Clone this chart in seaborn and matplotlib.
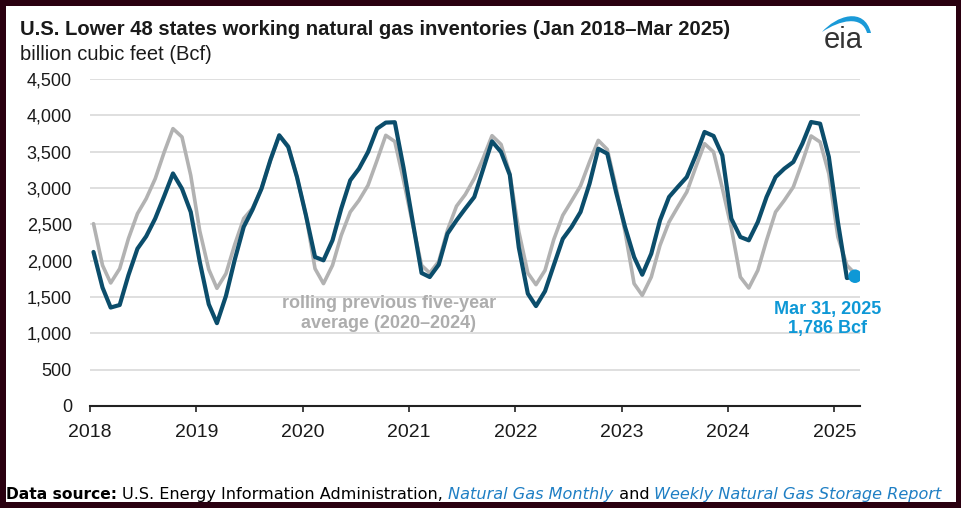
import numpy as np
import pandas as pd
import matplotlib
matplotlib.use("Agg")
import matplotlib.pyplot as plt
from matplotlib.patches import Rectangle, PathPatch
from matplotlib.path import Path
from matplotlib.ticker import FuncFormatter
import matplotlib.transforms as mtransforms
import seaborn as sns

# ---------------- data (Bcf, monthly, Jan 2018 - Mar 2025) ----------------
start_month = "2018-01"
end_month = "2025-03"

inventory = [
    2120, 1630, 1355, 1390, 1800, 2165, 2335, 2580, 2890, 3200, 2990, 2670,   # 2018
    1985, 1400, 1140, 1515, 2010, 2465, 2700, 2990, 3390, 3725, 3565, 3150,   # 2019
    2620, 2050, 2005, 2280, 2716, 3106, 3266, 3495, 3817, 3900, 3905, 3280,   # 2020
    2550, 1830, 1775, 1945, 2372, 2555, 2716, 2876, 3266, 3642, 3495, 3180,   # 2021
    2180, 1546, 1375, 1580, 1936, 2300, 2463, 2670, 3060, 3541, 3472, 2945,   # 2022
    2463, 2050, 1807, 2096, 2555, 2876, 3014, 3151, 3450, 3771, 3716, 3450,   # 2023
    2578, 2326, 2280, 2532, 2876, 3151, 3266, 3358, 3610, 3908, 3885, 3427,   # 2024
    2532, 1761, 1786,                                                         # 2025
]

five_year_avg = [
    2509, 1936, 1693, 1890, 2303, 2647, 2853, 3128, 3495, 3817, 3702, 3174,   # 2018
    2410, 1880, 1620, 1821, 2220, 2580, 2720, 2991, 3381, 3725, 3580, 3150,   # 2019
    2620, 1890, 1684, 1936, 2349, 2670, 2830, 3037, 3381, 3725, 3640, 3106,   # 2020
    2509, 1936, 1830, 1990, 2420, 2750, 2910, 3130, 3415, 3720, 3600, 3200,   # 2021
    2400, 1830, 1670, 1867, 2290, 2624, 2820, 3030, 3360, 3656, 3530, 3010,   # 2022
    2395, 1684, 1523, 1775, 2211, 2532, 2739, 2945, 3289, 3610, 3495, 3000,   # 2023
    2450, 1775, 1624, 1867, 2280, 2670, 2830, 3014, 3358, 3716, 3633, 3197,   # 2024
    2326, 1936, 1821,                                                         # 2025
]

year_ticks = [2018, 2019, 2020, 2021, 2022, 2023, 2024, 2025]
y_ticks = [0, 500, 1000, 1500, 2000, 2500, 3000, 3500, 4000, 4500]

title = "U.S. Lower 48 states working natural gas inventories (Jan 2018\u2013Mar 2025)"
subtitle = "billion cubic feet (Bcf)"
avg_label = "rolling previous five-year\naverage (2020\u20132024)"
last_label = "Mar 31, 2025\n1,786 Bcf"

# ---------------- styling ----------------
DARK = "#0b4d6b"
GRAY = "#b2b2b2"
BLUE = "#0e98d6"
GRID = "#d9d9d9"
TXT = "#1a1a1a"
BORDER = "#2a0010"

sns.set_theme(style="white")
plt.rcParams['font.family'] = ['Liberation Sans', 'DejaVu Sans']

W, H = 962, 508
dates = pd.period_range(start_month, end_month, freq="M").to_timestamp() + pd.Timedelta(days=12)
df = pd.DataFrame({"date": dates, "inventory": inventory, "avg": five_year_avg})

fig = plt.figure(figsize=(W / 100, H / 100), dpi=100)
fig.patch.set_facecolor("white")
ax = fig.add_axes([90 / W, 102 / H, 770 / W, 327 / H])
ax.set_facecolor("white")

sns.lineplot(data=df, x="date", y="avg", ax=ax, color=GRAY, linewidth=2.6, zorder=3)
sns.lineplot(data=df, x="date", y="inventory", ax=ax, color=DARK, linewidth=3.0, zorder=4)
last = df.iloc[[-1]]
sns.scatterplot(data=last, x="date", y="inventory", ax=ax, color=BLUE, s=95,
                edgecolor="none", zorder=5, legend=False)

ax.set_xlim(pd.Timestamp("2018-01-01"), pd.Timestamp("2025-03-30"))
ax.set_ylim(0, 4500)
ax.set_yticks(y_ticks)
ax.yaxis.set_major_formatter(FuncFormatter(lambda v, p: f"{int(v):,}"))
ax.set_xticks([pd.Timestamp(f"{y}-01-01") for y in year_ticks])
ax.set_xticklabels([str(y) for y in year_ticks])
ax.set_xlabel("")
ax.set_ylabel("")

ax.yaxis.grid(True, color=GRID, linewidth=1.2)
ax.xaxis.grid(False)
ax.set_axisbelow(True)
for s in ["left", "right", "top"]:
    ax.spines[s].set_visible(False)
ax.spines["bottom"].set_color("#222222")
ax.spines["bottom"].set_linewidth(1.5)
ax.spines["bottom"].set_zorder(6)

ax.tick_params(axis="x", which="major", bottom=True, length=4.2, width=1.2, color="#222222",
               direction="out", labelsize=14, labelcolor=TXT, pad=8.5)
ax.tick_params(axis="y", length=0, pad=13, labelsize=13, labelcolor=TXT)


def fp(x, y):
    return (x / W, 1 - y / H)


fig.text(*fp(20, 35), title, fontsize=14.55, fontweight="bold", color=TXT, va="baseline", ha="left")
fig.text(*fp(20, 59.5), subtitle, fontsize=14.5, color=TXT, va="baseline", ha="left")

fig.text(*fp(389, 328), avg_label, fontsize=13, fontweight="bold", color="#adadad",
         ha="center", va="baseline", linespacing=1.2, multialignment="center")
fig.text(*fp(828, 333), last_label, fontsize=13, fontweight="bold", color=BLUE,
         ha="center", va="baseline", linespacing=1.15, multialignment="center")

# eia logo
fig.text(*fp(843, 48), "eia", fontsize=21, color="#333333", ha="center", va="baseline")
px2fig = mtransforms.Affine2D().scale(1 / W, -1 / H).translate(0, 1) + fig.transFigure
verts = [(822, 32), (836, 16), (864, 6), (871, 33),
         (867, 33), (862, 15), (840, 20), (822, 32), (822, 32)]
codes = [Path.MOVETO, Path.CURVE4, Path.CURVE4, Path.CURVE4,
         Path.LINETO, Path.CURVE4, Path.CURVE4, Path.CURVE4, Path.CLOSEPOLY]
fig.add_artist(PathPatch(Path(verts, codes), transform=px2fig, facecolor="#1a9ad8",
                         edgecolor="none"))

# data source line
fig.canvas.draw()
renderer = fig.canvas.get_renderer()
parts = [
    ("Data source: ", "bold", "normal", "black", 11.2),
    ("U.S. Energy Information Administration, ", "normal", "normal", "black", 11.6),
    ("Natural Gas Monthly", "normal", "italic", "#1f7fc4", 11.6),
    (" and ", "normal", "normal", "black", 11.6),
    ("Weekly Natural Gas Storage Report", "normal", "italic", "#1f7fc4", 11.6),
]
x0 = 6 / W
for txt, wt, st, col, fs in parts:
    t = fig.text(x0, 1 - 499 / H, txt, fontsize=fs, fontweight=wt, fontstyle=st, color=col,
                 family=["DejaVu Sans"], ha="left", va="baseline")
    bb = t.get_window_extent(renderer=renderer)
    x0 = bb.x1 / W

# border
bw = 6
for (x, y, w, h) in [(0, 0, W, bw), (0, H - bw, W, bw), (0, 0, bw, H), (W - bw, 0, bw, H)]:
    fig.add_artist(Rectangle((x / W, y / H), w / W, h / H, transform=fig.transFigure,
                             facecolor=BORDER, edgecolor="none", zorder=20))

fig.savefig("out.png", dpi=100, facecolor="white")
